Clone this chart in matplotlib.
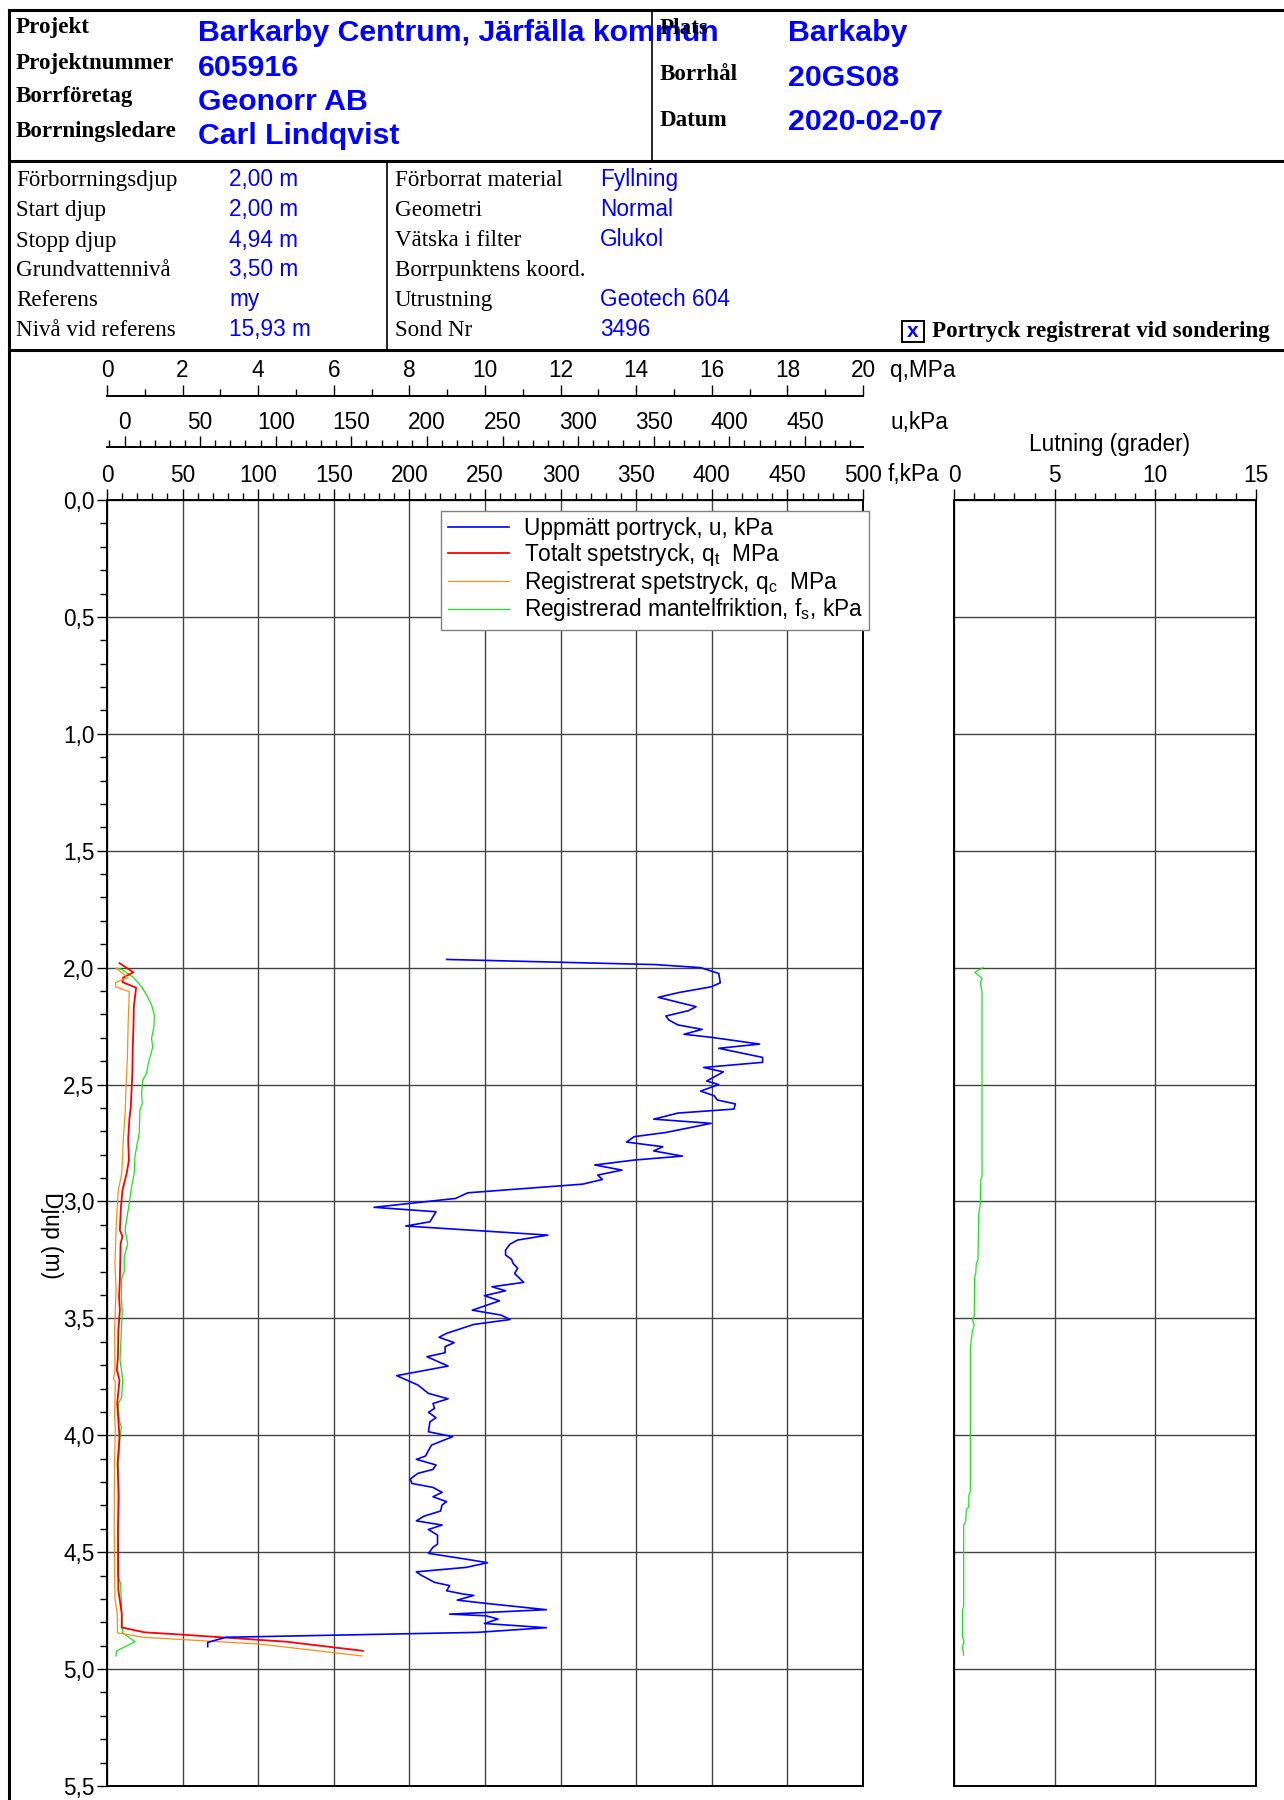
import matplotlib
matplotlib.use("Agg")
import matplotlib.pyplot as plt
from matplotlib.patches import Rectangle
from matplotlib.ticker import MultipleLocator, FuncFormatter

plt.rcParams['font.family'] = ['Liberation Sans', 'DejaVu Sans']
plt.rcParams['font.size'] = 16.3

# --- sonderingsdata (avläst) ---
u_depth = [1.965, 1.987, 2.000, 2.025, 2.065, 2.082, 2.089, 2.106, 2.127, 2.167,
           2.184, 2.207, 2.224, 2.245, 2.264, 2.285, 2.298, 2.327, 2.345, 2.384,
           2.405, 2.427, 2.446, 2.485, 2.500, 2.528, 2.548, 2.566, 2.583, 2.605,
           2.622, 2.648, 2.666, 2.705, 2.723, 2.746, 2.766, 2.784, 2.806, 2.823,
           2.844, 2.866, 2.887, 2.906, 2.926, 2.963, 2.987, 3.025, 3.044, 3.087,
           3.105, 3.144, 3.165, 3.182, 3.208, 3.229, 3.248, 3.265, 3.286, 3.308,
           3.346, 3.365, 3.382, 3.403, 3.425, 3.465, 3.486, 3.505, 3.526, 3.564,
           3.581, 3.604, 3.621, 3.647, 3.664, 3.704, 3.745, 3.785, 3.821, 3.844,
           3.864, 3.885, 3.902, 3.925, 3.942, 3.985, 4.006, 4.042, 4.089, 4.103,
           4.127, 4.146, 4.163, 4.187, 4.206, 4.223, 4.244, 4.263, 4.284, 4.298,
           4.324, 4.346, 4.366, 4.384, 4.403, 4.427, 4.466, 4.479, 4.505, 4.529,
           4.545, 4.565, 4.584, 4.598, 4.629, 4.643, 4.665, 4.679, 4.685, 4.705,
           4.719, 4.746, 4.765, 4.772, 4.786, 4.805, 4.823, 4.843, 4.864, 4.886,
           4.904]
u_kpa = [213, 351, 381, 393, 394, 388, 382, 367, 353, 378,
         373, 358, 360, 366, 382, 370, 388, 420, 393, 422,
         422, 383, 396, 385, 393, 381, 390, 392, 404, 403,
         366, 350, 388, 358, 337, 332, 356, 350, 369, 337,
         311, 329, 313, 316, 303, 227, 219, 165, 206, 202,
         186, 280, 260, 255, 252, 252, 256, 257, 260, 258,
         264, 243, 252, 238, 248, 230, 249, 255, 231, 213,
         208, 218, 212, 212, 200, 214, 180, 194, 201, 214,
         204, 205, 201, 206, 202, 201, 217, 203, 199, 193,
         206, 204, 194, 189, 190, 204, 210, 204, 213, 210,
         209, 198, 193, 210, 201, 207, 207, 204, 201, 225,
         240, 226, 193, 196, 205, 215, 213, 224, 231, 220,
         239, 279, 215, 239, 247, 238, 279, 233, 67, 55,
         55]

qt_depth = [1.981, 2.020, 2.042, 2.062, 2.086, 2.167, 2.253, 2.352, 2.452, 2.524,
            2.595, 2.652, 2.737, 2.823, 2.880, 2.951, 3.023, 3.122, 3.150, 3.180,
            3.336, 3.407, 3.464, 3.550, 3.664, 3.720, 3.764, 3.864, 4.007, 4.120,
            4.260, 4.405, 4.662, 4.762, 4.822, 4.843, 4.852, 4.883, 4.922]
qt_mpa = [0.33, 0.70, 0.43, 0.41, 0.77, 0.71, 0.70, 0.68, 0.67, 0.65,
          0.63, 0.59, 0.56, 0.58, 0.52, 0.41, 0.37, 0.34, 0.41, 0.36,
          0.34, 0.32, 0.34, 0.30, 0.29, 0.26, 0.33, 0.27, 0.33, 0.28,
          0.31, 0.29, 0.30, 0.39, 0.39, 1.00, 1.93, 4.75, 6.77]

qc_depth = [2.003, 2.043, 2.052, 2.064, 2.082, 2.103, 2.238, 2.381, 2.524, 2.623,
            2.737, 2.880, 2.951, 3.023, 3.122, 3.265, 3.379, 3.550, 3.721, 3.762,
            3.770, 3.920, 3.978, 4.120, 4.405, 4.698, 4.762, 4.845, 4.864, 4.893,
            4.944]
qc_mpa = [0.24, 0.56, 0.39, 0.23, 0.23, 0.59, 0.56, 0.54, 0.50, 0.48,
          0.43, 0.39, 0.30, 0.27, 0.24, 0.21, 0.24, 0.20, 0.21, 0.17,
          0.22, 0.20, 0.22, 0.20, 0.19, 0.21, 0.27, 0.28, 0.96, 4.04,
          6.75]

fs_depth = [2.003, 2.007, 2.042, 2.082, 2.117, 2.160, 2.203, 2.253, 2.302, 2.341,
            2.410, 2.452, 2.481, 2.538, 2.583, 2.609, 2.709, 2.766, 2.809, 2.880,
            2.937, 3.008, 3.122, 3.180, 3.236, 3.300, 3.330, 3.407, 3.470, 3.550,
            3.678, 3.762, 3.838, 3.864, 3.935, 3.964, 4.007, 4.120, 4.405, 4.600,
            4.633, 4.762, 4.845, 4.883, 4.922, 4.944]
fs_kpa = [6.8, 9.7, 17.4, 22.9, 26.2, 29.5, 31.3, 31.0, 29.5, 30.2,
          27.3, 26.2, 23.6, 22.9, 23.3, 21.8, 21.3, 19.6, 18.5, 18.0,
          16.3, 14.7, 11.9, 13.7, 11.4, 11.4, 9.7, 9.5, 10.1, 9.5,
          8.6, 10.4, 9.7, 7.5, 8.0, 9.5, 8.6, 7.5, 7.3, 7.0,
          9.0, 9.7, 10.3, 18.5, 6.4, 5.9]

tilt_depth = [2.000, 2.020, 2.046, 2.065, 2.103, 2.894, 2.908, 3.008, 3.051, 3.250,
              3.264, 3.308, 3.322, 3.493, 3.504, 3.528, 3.557, 3.593, 3.628, 4.241,
              4.255, 4.306, 4.320, 4.370, 4.384, 4.733, 4.748, 4.862, 4.883, 4.904,
              4.940]
tilt_deg = [1.44, 1.03, 1.39, 1.31, 1.39, 1.39, 1.33, 1.31, 1.23, 1.19,
            1.11, 1.08, 1.03, 1.00, 0.91, 1.00, 0.91, 0.86, 0.81, 0.81,
            0.74, 0.73, 0.61, 0.58, 0.48, 0.48, 0.42, 0.42, 0.50, 0.42,
            0.48]

legend_labels = ['Uppmätt portryck, u, kPa',
                 'Totalt spetstryck, q$_\\mathregular{t}$  MPa',
                 'Registrerat spetstryck, q$_\\mathregular{c}$  MPa',
                 'Registrerad mantelfriktion, f$_\\mathregular{s}$, kPa']

head1 = [('Projekt', 'Barkarby Centrum, Järfälla kommun', 33.5, 41),
         ('Projektnummer', '605916', 68.5, 75.5),
         ('Borrföretag', 'Geonorr AB', 102, 109.5),
         ('Borrningsledare', 'Carl Lindqvist', 136.5, 143.5)]
head1b = [('Plats', 'Barkaby', 33.5, 41),
          ('Borrhål', '20GS08', 80, 85.5),
          ('Datum', '2020-02-07', 126, 130.5)]
head2a = [('Förborrningsdjup', '2,00 m'), ('Start djup', '2,00 m'),
          ('Stopp djup', '4,94 m'), ('Grundvattennivå', '3,50 m'),
          ('Referens', 'my'), ('Nivå vid referens', '15,93 m')]
head2b = [('Förborrat material', 'Fyllning'), ('Geometri', 'Normal'),
          ('Vätska i filter', 'Glukol'), ('Borrpunktens koord.', ''),
          ('Utrustning', 'Geotech 604'), ('Sond Nr', '3496')]

BLUE = '#0000ff'
W, H = 1284, 1800


def box(x0, y0, x1, y1):
    return [x0 / W, 1 - y1 / H, (x1 - x0) / W, (y1 - y0) / H]


fig = plt.figure(figsize=(12.84, 18), dpi=100)

# header (pixel coordinates)
ov = fig.add_axes([0, 0, 1, 1])
ov.set_xlim(0, W)
ov.set_ylim(H, 0)
ov.axis('off')
lw = 2.2
ov.plot([9, W], [10, 10], color='k', lw=lw)
ov.plot([9, W], [161, 161], color='k', lw=lw)
ov.plot([9, W], [350, 350], color='k', lw=lw)
ov.plot([9, 9], [10, H], color='k', lw=lw)
ov.plot([652, 652], [10, 161], color='k', lw=1.2)
ov.plot([387, 387], [161, 350], color='k', lw=1.2)

serif = ['Liberation Serif', 'DejaVu Serif']
fs_lab = 16.6
for lab, val, yb, yv in head1:
    ov.text(16, yb, lab, family=serif, weight='bold', fontsize=fs_lab, va='baseline')
    ov.text(198, yv, val, color=BLUE, weight='bold', fontsize=21.8, va='baseline')
for lab, val, yb, yv in head1b:
    ov.text(660, yb, lab, family=serif, weight='bold', fontsize=fs_lab, va='baseline')
    ov.text(788, yv, val, color=BLUE, weight='bold', fontsize=21.8, va='baseline')

rows_y = [186, 216, 246.5, 276, 306, 336]
for (lab, val), y in zip(head2a, rows_y):
    ov.text(16, y, lab, family=serif, fontsize=fs_lab, va='baseline')
    ov.text(229, y, val, color=BLUE, fontsize=16.3, va='baseline')
for (lab, val), y in zip(head2b, rows_y):
    ov.text(395, y, lab, family=serif, fontsize=fs_lab, va='baseline')
    ov.text(600, y, val, color=BLUE, fontsize=16.3, va='baseline')

ov.add_patch(Rectangle((902, 321), 22, 21, fill=False, lw=1.4, ec='k'))
ov.text(913, 331.5, 'x', color=BLUE, weight='bold', fontsize=15, ha='center', va='center')
ov.text(932, 336.5, 'Portryck registrerat vid sondering', family=serif,
        weight='bold', fontsize=fs_lab, va='baseline')

ov.text(890, 377, 'q,MPa', va='baseline')
ov.text(890, 429, 'u,kPa', va='baseline')
ov.text(888, 481, 'f,kPa', va='baseline')
ov.text(1110, 451, 'Lutning (grader)', ha='center', va='baseline')

# main plot
ax = fig.add_axes(box(107, 500, 863, 1786))
ax_q = ax.twiny()
ax_u = ax.twiny()

ax.set_xlim(0, 500)
ax.set_ylim(5.5, 0)
ax.xaxis.set_major_locator(MultipleLocator(50))
ax.xaxis.set_minor_locator(MultipleLocator(10))
ax.yaxis.set_major_locator(MultipleLocator(0.5))
ax.yaxis.set_minor_locator(MultipleLocator(0.1))
ax.yaxis.set_major_formatter(FuncFormatter(lambda v, p: f'{v:.1f}'.replace('.', ',')))
ax.xaxis.tick_top()
ax.xaxis.set_label_position('top')
ax.tick_params(axis='x', which='major', direction='out', length=7.7, width=1.0,
               pad=2, top=True, bottom=False, labeltop=True, labelbottom=False)
ax.tick_params(axis='x', which='minor', direction='out', length=4.8, width=1.0,
               top=True, bottom=False)
ax.tick_params(axis='y', which='major', direction='out', length=7, width=1.0, pad=2)
ax.tick_params(axis='y', which='minor', direction='out', length=5, width=1.0)
ax.grid(True, which='major', color='#444444', lw=1.0)
for s in ax.spines.values():
    s.set_linewidth(1.4)

ax_q.set_xlim(0, 20)
ax_q.xaxis.set_major_locator(MultipleLocator(2))
ax_q.xaxis.set_minor_locator(MultipleLocator(1))
ax_q.spines['top'].set_position(('outward', 75))

ax_u.set_xlim(-11.6, 488.4)
ax_u.set_xticks(range(0, 451, 50))
ax_u.xaxis.set_minor_locator(MultipleLocator(10))
ax_u.spines['top'].set_position(('outward', 38))

for a in (ax_q, ax_u):
    for side in ('left', 'right', 'bottom'):
        a.spines[side].set_visible(False)
    a.spines['top'].set_linewidth(1.4)
    a.tick_params(axis='x', which='major', direction='out', length=7.7, width=1.0, pad=2)
    a.tick_params(axis='x', which='minor', direction='out', length=4.8, width=1.0)

h_u, = ax_u.plot(u_kpa, u_depth, color=BLUE, lw=1.2)
h_qt, = ax_q.plot(qt_mpa, qt_depth, color='#ff0000', lw=1.3)
h_qc, = ax_q.plot(qc_mpa, qc_depth, color='#ff8c1a', lw=0.9)
h_fs, = ax.plot(fs_kpa, fs_depth, color='#19e619', lw=0.9)

ax.set_ylabel('Djup (m)', rotation=270, va='center')
ax.yaxis.set_label_coords(-0.073, 0.428)

leg = ax_u.legend([h_u, h_qt, h_qc, h_fs], legend_labels, loc='upper right',
                  bbox_to_anchor=(1.008, 0.9914), borderaxespad=0,
                  fancybox=False, framealpha=1, edgecolor='#808080',
                  handlelength=2.7, handletextpad=0.65, labelspacing=0.03, borderpad=0.28)
leg.get_frame().set_linewidth(1.0)

# lutning
ax_t = fig.add_axes(box(954, 500, 1256, 1786))
ax_t.set_xlim(0, 15)
ax_t.set_ylim(5.5, 0)
ax_t.xaxis.set_major_locator(MultipleLocator(5))
ax_t.xaxis.set_minor_locator(MultipleLocator(1))
ax_t.yaxis.set_major_locator(MultipleLocator(0.5))
ax_t.xaxis.tick_top()
ax_t.tick_params(axis='x', which='major', direction='out', length=7.7, width=1.0, pad=2)
ax_t.tick_params(axis='x', which='minor', direction='out', length=4.8, width=1.0)
ax_t.tick_params(axis='y', which='both', left=False, labelleft=False)
ax_t.grid(True, which='major', color='#444444', lw=1.0)
for s in ax_t.spines.values():
    s.set_linewidth(1.4)
ax_t.plot(tilt_deg, tilt_depth, color='#19e619', lw=0.9)

fig.savefig('out.png', dpi=100)
